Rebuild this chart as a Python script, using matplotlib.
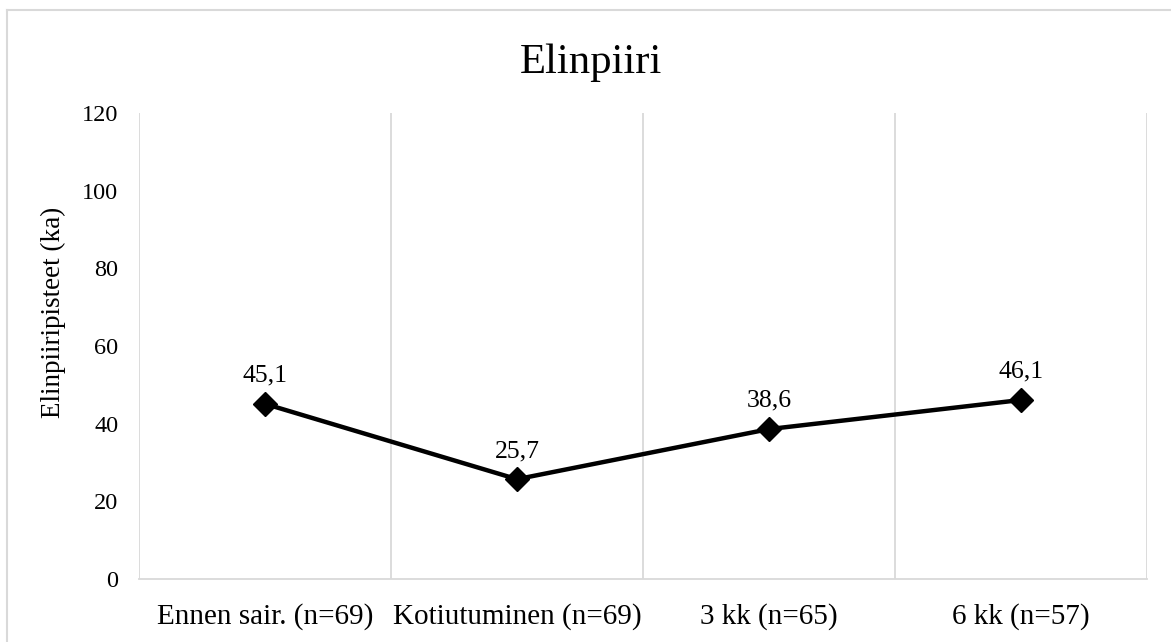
import matplotlib
matplotlib.use("Agg")
import matplotlib.pyplot as plt
from matplotlib.lines import Line2D
import numpy as np

plt.rcParams['font.family'] = ['Liberation Serif', 'DejaVu Serif']

categories = ['Ennen sair. (n=69)', 'Kotiutuminen (n=69)', '3 kk (n=65)', '6 kk (n=57)']
values = [45.1, 25.7, 38.6, 46.1]
labels = ['45,1', '25,7', '38,6', '46,1']
yticks = [0, 20, 40, 60, 80, 100, 120]

grid_col = '#d9d9d9'

fig = plt.figure(figsize=(11.71, 6.42), dpi=100)
ax = fig.add_axes([139 / 1171, 1 - 579 / 642, 1008 / 1171, 466 / 642])

x = np.arange(len(categories))
ax.plot(x, values, color='black', lw=3.2, marker='D', markersize=12, zorder=3)

for xi, v, lab in zip(x, values, labels):
    ax.annotate(lab, (xi, v), xytext=(0, 16), textcoords='offset points',
                ha='center', va='baseline', fontsize=18.5)

# category boundaries as gridlines
for b in np.arange(len(categories) + 1) - 0.5:
    ax.axvline(b, color=grid_col, lw=1.3, zorder=1)

ax.set_xlim(-0.5, len(categories) - 0.5)
ax.set_ylim(0, 120)
ax.set_yticks(yticks)
ax.set_xticks(x)
ax.set_xticklabels(categories, fontsize=21)
ax.tick_params(axis='y', length=0, pad=15, labelsize=17.5)
ax.tick_params(axis='x', length=0, pad=17)

for s in ['top', 'right', 'left']:
    ax.spines[s].set_visible(False)
ax.spines['bottom'].set_color(grid_col)
ax.spines['bottom'].set_linewidth(1.3)

fig.text(53 / 1171, 1 - 312 / 642, 'Elinpiiripisteet (ka)', rotation=90,
         ha='center', va='center', fontsize=19.5)

fig.text(0.505, 0.903, 'Elinpiiri', ha='center', va='center', fontsize=30.8)

# outer chart border (only top and left visible in the crop)
fig.add_artist(Line2D([7 / 1171, 7 / 1171], [0, 1 - 10 / 642], color=grid_col, lw=1.5))
fig.add_artist(Line2D([7 / 1171, 1], [1 - 10 / 642, 1 - 10 / 642], color=grid_col, lw=1.5))

fig.savefig('out.png', dpi=100)
